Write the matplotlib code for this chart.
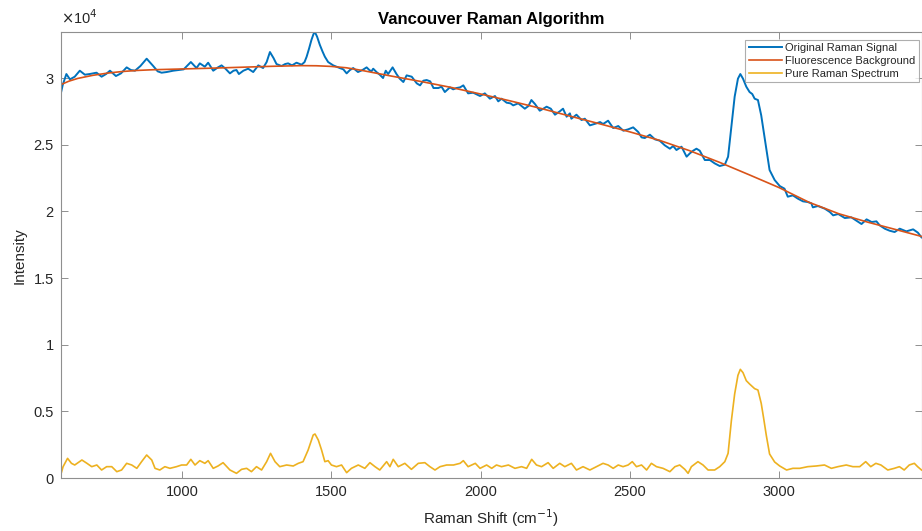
import matplotlib
matplotlib.use("Agg")
import matplotlib.pyplot as plt
from matplotlib.ticker import FuncFormatter, MultipleLocator

plt.rcParams["font.family"] = ["Liberation Sans", "DejaVu Sans"]

# Measured spectrum (Raman shift in cm^-1, intensity in counts)
shift_signal = [
    593, 600, 612, 624, 640, 657, 674, 690, 713, 730, 745, 758, 778, 795, 814, 828,
    842, 860, 881, 903, 918, 931, 948, 970, 988, 1005, 1029, 1048, 1059, 1076, 1087,
    1104, 1120, 1132, 1145, 1160, 1172, 1182, 1190, 1205, 1221, 1238, 1255, 1271,
    1283, 1294, 1306, 1316, 1333, 1345, 1355, 1368, 1383, 1400, 1410, 1417, 1425,
    1433, 1440, 1445, 1452, 1461, 1470, 1478, 1489, 1506, 1517, 1528, 1540, 1551,
    1562, 1573, 1589, 1604, 1618, 1627, 1634, 1640, 1651, 1662, 1673, 1682, 1690,
    1705, 1718, 1729, 1741, 1752, 1769, 1786, 1797, 1808, 1819, 1831, 1842, 1858,
    1869, 1880, 1897, 1908, 1919, 1931, 1942, 1950, 1958, 1975, 1998, 2014, 2031,
    2048, 2059, 2070, 2087, 2100, 2109, 2126, 2137, 2148, 2160, 2170, 2182, 2198,
    2210, 2221, 2235, 2249, 2265, 2276, 2288, 2299, 2304, 2321, 2338, 2349, 2366,
    2388, 2400, 2410, 2427, 2444, 2461, 2478, 2494, 2511, 2528, 2539, 2550, 2567,
    2584, 2600, 2617, 2634, 2645, 2656, 2673, 2690, 2701, 2712, 2723, 2734, 2751,
    2768, 2784, 2801, 2818, 2829, 2840, 2851, 2862, 2870, 2879, 2890, 2901, 2910,
    2918, 2929, 2940, 2948, 2957, 2968, 2985, 3002, 3018, 3029, 3046, 3063, 3080,
    3096, 3108, 3113, 3130, 3153, 3170, 3181, 3198, 3220, 3242, 3259, 3276, 3293,
    3310, 3326, 3337, 3354, 3370, 3387, 3404, 3426, 3449, 3465, 3477,
]
signal = [
    28800, 29500, 30300, 29900, 30100, 30550, 30250, 30300, 30400, 30100, 30300,
    30550, 30150, 30350, 30800, 30600, 30550, 30900, 31450, 30900, 30500, 30400,
    30450, 30550, 30600, 30650, 31200, 30750, 31100, 30850, 31150, 30550, 30800,
    30950, 30700, 30350, 30550, 30600, 30300, 30550, 30700, 30450, 30950, 30750,
    31200, 31950, 31500, 31050, 30900, 31050, 31100, 30950, 31150, 31000, 31200,
    31600, 32200, 32850, 33300, 33430, 33100, 32500, 32000, 31600, 31200, 30950,
    30850, 30750, 30650, 30350, 30600, 30750, 30450, 30600, 30800, 30600, 30500,
    30700, 30450, 30250, 30000, 30550, 30300, 30800, 30300, 29950, 29700, 30200,
    30100, 29600, 29450, 29800, 29850, 29750, 29250, 29250, 29350, 28950, 29300,
    29150, 29250, 29300, 29450, 29150, 28850, 28900, 28650, 28850, 28450, 28650,
    28250, 28450, 28150, 28100, 27950, 28100, 27900, 27700, 27900, 28350, 28050,
    27550, 27700, 27850, 27700, 27250, 27500, 27700, 27100, 27350, 26950, 27250,
    26850, 26950, 26450, 26600, 26700, 26550, 26800, 26250, 26400, 26050, 26150,
    26300, 25950, 25550, 25500, 25750, 25400, 25300, 24950, 24700, 24900, 24600,
    24850, 24100, 24350, 24550, 24700, 24550, 23850, 23850, 23600, 23400, 23500,
    24100, 26350, 28600, 29950, 30300, 29950, 29350, 28950, 28800, 28450, 28350,
    27200, 26000, 24700, 23100, 22350, 21900, 21700, 21100, 21200, 20950, 20750,
    20700, 20600, 20300, 20400, 20200, 19950, 19700, 19800, 19500, 19550, 19300,
    19050, 19400, 19200, 19250, 18950, 18700, 18550, 18450, 18700, 18500, 18650,
    18400, 18050,
]

# Fitted fluorescence background
shift_background = [
    593, 620, 650, 700, 750, 800, 850, 900, 1000, 1100, 1200, 1300, 1400, 1450,
    1500, 1550, 1600, 1700, 1800, 1900, 2000, 2100, 2200, 2300, 2400, 2500, 2600,
    2700, 2800, 2900, 3000, 3100, 3200, 3300, 3400, 3477,
]
background = [
    29500, 29760, 29970, 30200, 30370, 30490, 30570, 30620, 30680, 30740, 30810,
    30880, 30930, 30920, 30870, 30770, 30580, 30150, 29740, 29300, 28800, 28280,
    27730, 27140, 26560, 25960, 25320, 24550, 23680, 22740, 21780, 20680, 19820,
    19170, 18580, 18120,
]

# Background-corrected Raman spectrum
shift_pure = [
    593, 601, 616, 629, 640, 664, 681, 697, 714, 730, 747, 764, 781, 797, 814, 831,
    848, 864, 881, 898, 909, 925, 942, 959, 981, 998, 1015, 1029, 1043, 1059, 1076,
    1087, 1104, 1120, 1137, 1160, 1182, 1199, 1216, 1232, 1249, 1266, 1283, 1296,
    1311, 1327, 1350, 1372, 1389, 1405, 1422, 1439, 1445, 1456, 1467, 1478, 1489,
    1500, 1517, 1534, 1551, 1567, 1590, 1612, 1629, 1646, 1662, 1685, 1696, 1707,
    1724, 1746, 1768, 1791, 1813, 1830, 1847, 1864, 1886, 1909, 1931, 1942, 1958,
    1982, 1998, 2020, 2037, 2053, 2070, 2093, 2115, 2137, 2154, 2171, 2187, 2204,
    2226, 2243, 2265, 2282, 2304, 2321, 2343, 2366, 2388, 2410, 2427, 2444, 2461,
    2477, 2494, 2508, 2522, 2539, 2556, 2572, 2589, 2611, 2634, 2651, 2667, 2684,
    2695, 2706, 2728, 2745, 2762, 2784, 2801, 2818, 2829, 2840, 2851, 2862, 2870,
    2879, 2890, 2901, 2918, 2929, 2940, 2948, 2957, 2968, 2985, 3002, 3025, 3046,
    3069, 3096, 3124, 3152, 3175, 3197, 3225, 3247, 3270, 3290, 3307, 3324, 3341,
    3364, 3386, 3403, 3419, 3436, 3453, 3464, 3477,
]
pure = [
    225, 850, 1475, 1100, 975, 1350, 1100, 850, 975, 600, 850, 850, 475, 600, 1100,
    975, 725, 1225, 1725, 1350, 725, 600, 850, 725, 850, 975, 975, 1400, 975, 1300,
    1100, 1300, 725, 900, 1150, 600, 350, 650, 725, 475, 850, 600, 1225, 1850, 1225,
    850, 975, 900, 1100, 1225, 2100, 3225, 3300, 2850, 2100, 1225, 1300, 975, 850,
    975, 400, 725, 975, 725, 1150, 850, 600, 1225, 850, 1400, 850, 1100, 650, 1100,
    1150, 850, 600, 850, 975, 975, 1100, 1300, 850, 1100, 725, 975, 725, 975, 850,
    975, 725, 850, 725, 1400, 975, 850, 1150, 725, 1100, 850, 1100, 600, 850, 600,
    850, 1100, 975, 725, 975, 850, 975, 1225, 850, 975, 600, 1100, 850, 725, 475,
    850, 975, 650, 350, 850, 1225, 975, 600, 600, 850, 1225, 1850, 4300, 6300,
    7700, 8150, 7900, 7300, 7050, 6700, 6600, 5600, 4500, 3200, 1800, 1200, 900,
    600, 725, 725, 850, 900, 975, 725, 850, 975, 850, 850, 1225, 850, 1100, 975,
    600, 725, 850, 600, 975, 1100, 850, 600,
]

x_ticks = [1000, 1500, 2000, 2500, 3000]
y_step = 5000
y_exponent = 4

fig = plt.figure(figsize=(9.22, 5.31), dpi=100)
ax = fig.add_axes([60.7 / 922, 1 - 478 / 531, 860.8 / 922, 445.7 / 531])

ax.plot(shift_signal, signal, color="#0072BD", lw=1.4, label="Original Raman Signal")
ax.plot(shift_background, background, color="#D95319", lw=1.2,
        label="Fluorescence Background")
ax.plot(shift_pure, pure, color="#EDB120", lw=1.2, label="Pure Raman Spectrum")

ax.set_xlim(min(shift_signal), max(shift_signal))
ax.set_ylim(0, max(signal))
ax.set_xticks(x_ticks)
ax.yaxis.set_major_locator(MultipleLocator(y_step))
ax.yaxis.set_major_formatter(
    FuncFormatter(lambda v, _: f"{v / 10 ** y_exponent:g}"))

axis_grey = "#8f8f8f"
text_grey = "#262626"
for side in ax.spines.values():
    side.set_color(axis_grey)
    side.set_linewidth(0.8)
ax.tick_params(direction="in", length=5, width=0.7, color=axis_grey,
               labelcolor=text_grey, labelsize=10.5, top=True, right=True, pad=5)

ax.text(0.0, 1.012, r"$\times$10$^{4}$", transform=ax.transAxes, ha="left",
        va="bottom", fontsize=10.5, color=text_grey)

ax.set_title("Vancouver Raman Algorithm", fontsize=12, fontweight="bold",
             color="black", pad=6)
ax.set_xlabel(r"Raman Shift (cm$^{-1}$)", fontsize=11, color=text_grey, labelpad=6)
ax.set_ylabel("Intensity", fontsize=11, color=text_grey, labelpad=5)

leg = ax.legend(loc="upper right", bbox_to_anchor=(0.9971, 0.9827),
                borderaxespad=0, fontsize=8, frameon=True, fancybox=False,
                handlelength=3.0, handletextpad=0.3, labelspacing=0.25,
                borderpad=0.3)
leg.get_frame().set_edgecolor("#9a9a9a")
leg.get_frame().set_linewidth(0.8)
for t in leg.get_texts():
    t.set_color(text_grey)

fig.savefig("out.png", dpi=100)
